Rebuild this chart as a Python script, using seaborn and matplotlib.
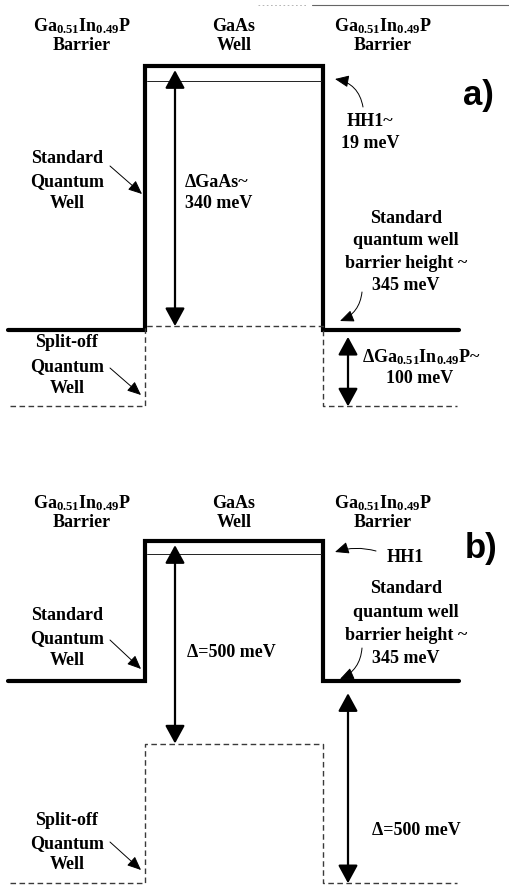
import matplotlib
matplotlib.use("Agg")
import matplotlib.pyplot as plt
from matplotlib.lines import Line2D
import pandas as pd
import seaborn as sns

# Valence-band offsets in meV below the GaAs band edge, one entry per panel
panels = ["a)", "b)"]
barrier_meV = [345, 345]      # standard quantum well barrier height
hh1_meV = [19, 33]            # HH1 subband
gaas_so_meV = [340, 500]      # GaAs split-off offset (left arrow)
gainp_so_meV = [100, 500]     # Ga0.51In0.49P split-off offset (right arrow)

left_arrow_text = [["\u0394GaAs~", "340 meV"], ["\u0394=500 meV"]]
right_arrow_text = [["\u0394Ga$_{0.51}$In$_{0.49}$P~", "100 meV"], ["\u0394=500 meV"]]
hh1_text = [["HH1~", "19 meV"], ["HH1"]]
barrier_text = ["Standard", "quantum well", "barrier height ~", "345 meV"]
material = "Ga$_{0.51}$In$_{0.49}$P"

W, H = 509, 886
sns.set_theme(style="white")
plt.rcParams["font.family"] = ["Liberation Serif", "DejaVu Serif"]
plt.rcParams["font.weight"] = "bold"
plt.rcParams["mathtext.fontset"] = "custom"
plt.rcParams["mathtext.rm"] = "Liberation Serif:bold"
plt.rcParams["mathtext.it"] = "Liberation Serif:bold"
plt.rcParams["mathtext.bf"] = "Liberation Serif:bold"
plt.rcParams["mathtext.default"] = "rm"

FS = 13
fig = plt.figure(figsize=(W / 100, H / 100), dpi=100, facecolor="white")


def put(x, y, s, ha="center", size=FS, **kw):
    """Place text at a pixel position (y measured from the top)."""
    fig.text(x / W, 1 - y / H, s, ha=ha, va="baseline", fontsize=size,
             fontweight="bold", color="black", **kw)


def pointer(ax, start, tip, rad=0.0):
    ax.annotate("", xy=(tip[0], H - tip[1]), xycoords="figure pixels",
                xytext=(start[0], H - start[1]), textcoords="figure pixels",
                arrowprops=dict(arrowstyle="-|>,head_length=0.6,head_width=0.26",
                                mutation_scale=14, lw=0.7, color="black",
                                shrinkA=0, shrinkB=0,
                                connectionstyle=f"arc3,rad={rad}"))


# layer boundaries across the page (pixels)
x_left, x_wall1, x_wall2, x_right = 8, 145, 323, 459
x_arrow_l, x_arrow_r = 175, 348

# vertical layout of each panel: band-edge row, pixels per meV, page span,
# and the gap (points) left between each offset arrow and the band edge
layout = [dict(top=66, k=0.765, y0=0, y1=443, gap_l=3, gap_r=5),
          dict(top=541, k=0.405, y0=443, y1=886, gap_l=3, gap_r=9)]

# per-panel text rows (pixel baselines)
rows = [
    dict(head=(31, 50), lab=(478, 105), hh1=(370, (126, 148)), hh1_ptr=((363, 107), (335, 79), 0.35),
         bar=(406, (223, 245, 268, 290)), bar_ptr=((362, 292), (340, 321), -0.3),
         sqw=(163, 186, 208), sqw_ptr=((110, 166), (142, 194)),
         so=(347, 371, 393), so_ptr=((110, 368), (141, 395)),
         larr=(185, (187, 208)), rarr=((362, 420), (362, 383))),
    dict(head=(508, 527), lab=(481, 558), hh1=(405, (562,)), hh1_ptr=((376, 551), (335, 552), 0.15),
         bar=(406, (593, 617, 640, 663)), bar_ptr=((362, 648), (340, 679), -0.3),
         sqw=(620, 643, 665), sqw_ptr=((110, 640), (141, 669)),
         so=(825, 848, 869), so_ptr=((110, 842), (141, 870)),
         larr=(187, (657,)), rarr=((372, None), (835,))),
]

for i in range(2):
    L, R = layout[i], rows[i]
    b, h1, so, g = barrier_meV[i], hh1_meV[i], gaas_so_meV[i], gainp_so_meV[i]
    ax = fig.add_axes([0, 1 - L["y1"] / H, 1, (L["y1"] - L["y0"]) / H])
    ax.set_xlim(0, W)
    ax.set_ylim(-(L["y1"] - L["top"]) / L["k"], (L["top"] - L["y0"]) / L["k"])
    ax.axis("off")

    # standard quantum well band edge
    edge = pd.DataFrame({"x": [x_left, x_wall1, x_wall1, x_wall2, x_wall2, x_right],
                         "E": [-b, -b, 0, 0, -b, -b]})
    sns.lineplot(data=edge, x="x", y="E", sort=False, estimator=None, ax=ax,
                 color="black", lw=3.0, solid_joinstyle="miter", legend=False)

    # split-off band edge
    bottom = -(b + g)
    split = pd.DataFrame({"x": [10, x_wall1, x_wall1, x_wall2, x_wall2, 457],
                          "E": [bottom, bottom, -so, -so, bottom, bottom]})
    sns.lineplot(data=split, x="x", y="E", sort=False, estimator=None, ax=ax,
                 color="#3a3a3a", lw=1.0, linestyle=(0, (4, 2.5)), legend=False)

    # HH1 subband
    sub = pd.DataFrame({"x": [x_wall1 + 2, x_wall2 - 2], "E": [-h1, -h1]})
    sns.lineplot(data=sub, x="x", y="E", sort=False, estimator=None, ax=ax,
                 color="#222222", lw=0.7, legend=False)

    big = dict(arrowstyle="<|-|>,head_length=0.55,head_width=0.3",
               mutation_scale=20, lw=1.6, color="black", shrinkA=0)
    ax.annotate("", xy=(x_arrow_l, 0), xytext=(x_arrow_l, -so),
                arrowprops=dict(big, shrinkB=L["gap_l"]))
    ax.annotate("", xy=(x_arrow_r, -b), xytext=(x_arrow_r, bottom),
                arrowprops=dict(big, shrinkB=L["gap_r"]))

    # headers
    y_a, y_b = R["head"]
    for xc, top, bot in [(82, material, "Barrier"), (234, "GaAs", "Well"),
                         (383, material, "Barrier")]:
        put(xc, y_a, top)
        put(xc, y_b, bot)

    put(R["lab"][0], R["lab"][1], panels[i], size=25,
        family=["Liberation Sans", "DejaVu Sans"])

    # HH1 label
    xc, ys = R["hh1"]
    for s, y in zip(hh1_text[i], ys):
        put(xc, y, s)
    pointer(ax, *R["hh1_ptr"])

    # barrier height label
    xc, ys = R["bar"]
    for s, y in zip(barrier_text, ys):
        put(xc, y, s)
    pointer(ax, *R["bar_ptr"])

    # standard / split-off quantum well labels
    for s, y in zip(["Standard", "Quantum", "Well"], R["sqw"]):
        put(67, y, s)
    pointer(ax, *R["sqw_ptr"])
    for s, y in zip(["Split-off", "Quantum", "Well"], R["so"]):
        put(67, y, s)
    pointer(ax, *R["so_ptr"])

    # arrow labels
    xl, ys = R["larr"]
    for s, y in zip(left_arrow_text[i], ys):
        put(xl, y, s, ha="left")
    xs, ys = R["rarr"]
    texts = right_arrow_text[i]
    put(xs[0], ys[0], texts[0], ha="left")
    if len(texts) == 2:
        put(xs[1], ys[1], texts[1])

# thin rule at the top of the page
fig.add_artist(Line2D([312 / W, 1], [1 - 5 / H] * 2, transform=fig.transFigure,
                      lw=0.8, color="#666666"))
fig.add_artist(Line2D([258 / W, 308 / W], [1 - 5 / H] * 2, transform=fig.transFigure,
                      lw=0.6, color="#aaaaaa", linestyle=(0, (2, 3))))

fig.savefig("out.png", dpi=100, facecolor="white")
